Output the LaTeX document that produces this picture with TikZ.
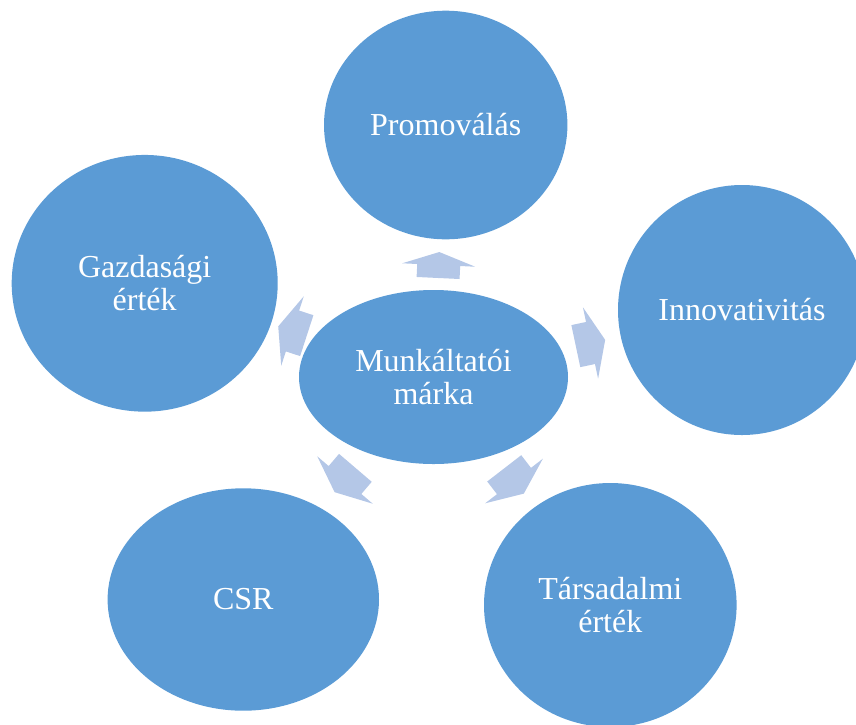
\documentclass[tikz,border=0pt]{standalone}
\usepackage{fontspec}
\setmainfont{Liberation Serif}
\usetikzlibrary{shapes.geometric}
\definecolor{circblue}{HTML}{5B9BD5}
\definecolor{arrblue}{HTML}{B4C7E7}
\newcommand\blockarr[4]{%
  \begin{scope}[shift={(#1,#2)},rotate=#3]
    \fill[blockarrow] (-#4,-21.5) -- (0,-21.5) -- (0,-36.5) -- (#4,0) -- (0,36.5) -- (0,21.5) -- (-#4,21.5) -- cycle;
  \end{scope}}
\begin{document}
\begin{tikzpicture}[x=1pt,y=-1pt,
  bubble/.style={ellipse, fill=circblue, text=white, inner sep=0pt, align=center,
                 font=\fontsize{32}{33}\selectfont},
  blockarrow/.style={fill=arrblue}]
\clip (0,0) rectangle (856,724);
% block arrows
\blockarr{438.7}{265}{87.3}{13}
\blockarr{590.5}{343}{12}{15}
\blockarr{292.5}{331}{162}{15}
\blockarr{345}{480}{229.5}{16}
\blockarr{514}{481}{307.7}{16}
% bubbles
\node[bubble, minimum width=269, minimum height=174] (center) at (433.5,377) {Munkáltatói\\márka};
\node[bubble, minimum width=243.4, minimum height=228.6] (promo) at (445.7,125) {Promoválás};
\node[bubble, minimum width=248, minimum height=250] (innov) at (742,310) {Innovativitás};
\node[bubble, minimum width=266, minimum height=256.7] (gazd) at (144.7,283.3) {Gazdasági\\érték};
\node[bubble, minimum width=271.4, minimum height=222.4] (csr) at (243.3,599.5) {CSR};
\node[bubble, minimum width=252.6, minimum height=244] (tars) at (610.3,605) {Társadalmi\\érték};
\end{tikzpicture}
\end{document}
